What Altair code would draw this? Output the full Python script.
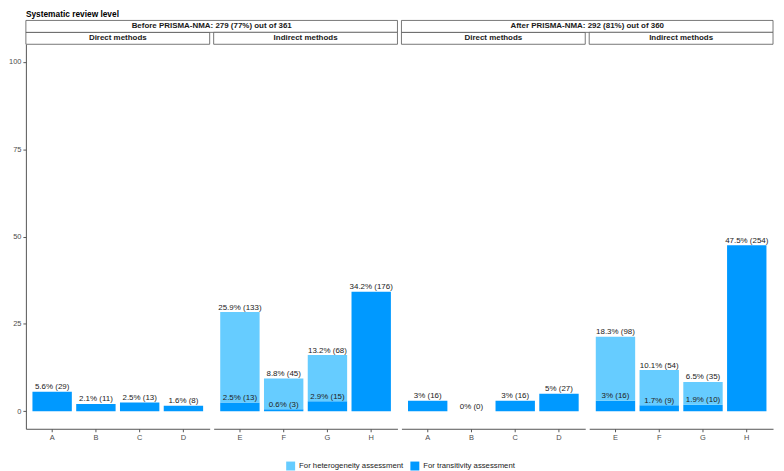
import altair as alt
import pandas as pd

# ---------------- data ----------------
periods = ["Before PRISMA-NMA: 279 (77%) out of 361",
           "After PRISMA-NMA: 292 (81%) out of 360"]
methods = ["Direct methods", "Indirect methods"]
direct_letters = ["A", "B", "C", "D"]
indirect_letters = ["E", "F", "G", "H"]
types = ["For heterogeneity assessment", "For transitivity assessment"]

# order of letters: A..H (A-D direct, E-H indirect)
before_trans_pct = [5.6, 2.1, 2.5, 1.6, 2.5, 0.6, 2.9, 34.2]
before_trans_n = [29, 11, 13, 8, 13, 3, 15, 176]
before_het_pct = [None, None, None, None, 25.9, 8.8, 13.2, None]
before_het_n = [None, None, None, None, 133, 45, 68, None]

after_trans_pct = [3, 0, 3, 5, 3, 1.7, 1.9, 47.5]
after_trans_n = [16, 0, 16, 27, 16, 9, 10, 254]
after_het_pct = [None, None, None, None, 18.3, 10.1, 6.5, None]
after_het_n = [None, None, None, None, 98, 54, 35, None]

y_ticks = [0, 25, 50, 75, 100]
colors = ["#66CCFF", "#0099FF"]


def fmt(p):
    s = f"{p:.1f}"
    return s[:-2] if s.endswith(".0") else s


rows = []
all_letters = direct_letters + indirect_letters
series = [(periods[0], before_trans_pct, before_trans_n, before_het_pct, before_het_n),
          (periods[1], after_trans_pct, after_trans_n, after_het_pct, after_het_n)]
for per, tp, tn, hp, hn in series:
    for i, L in enumerate(all_letters):
        meth = methods[0] if L in direct_letters else methods[1]
        rows.append(dict(period=per, method=meth, letter=L, type=types[1], order=0,
                         pct=tp[i], label=f"{fmt(tp[i])}% ({tn[i]})"))
        if hp[i] is not None:
            rows.append(dict(period=per, method=meth, letter=L, type=types[0], order=1,
                             pct=hp[i], label=f"{fmt(hp[i])}% ({hn[i]})"))
df = pd.DataFrame(rows)

# ---------------- layout ----------------
W = 185
H = 387
S = 4
HH = 12
FONT = "Liberation Sans"
AXC = "#555555"
LBLC = "#4D4D4D"

yscale = alt.Scale(domain=[-5, 105], nice=False, zero=False)
cscale = alt.Scale(domain=types, range=colors)
legend = alt.Legend(orient="none", direction="horizontal", title=None,
                    legendX=262, legendY=H + 33, symbolType="square",
                    symbolSize=81, symbolStrokeWidth=0, labelFontSize=7.8,
                    labelColor="#222222", labelOffset=4, columnPadding=7)


def panel(pi, mi):
    letters = direct_letters if mi == 0 else indirect_letters
    d = df[(df.period == periods[pi]) & (df.method == methods[mi])]
    base = alt.Chart(d).transform_stack(
        stack="pct", groupby=["letter"], as_=["y0", "y1"],
        sort=[alt.SortField("order", order="ascending")])
    xenc = alt.X("letter:N", scale=alt.Scale(domain=letters, paddingInner=0.1, paddingOuter=0.15),
                 axis=alt.Axis(title=None, labelAngle=0, labelFontSize=7.5, labelColor=LBLC,
                               tickSize=3, tickColor=AXC, domainColor=AXC, labelPadding=2))
    if pi == 0 and mi == 0:
        yaxis = alt.Axis(title=None, values=y_ticks, grid=False, labelFontSize=7.5,
                         labelColor=LBLC, tickSize=3, tickColor=AXC, domainColor=AXC,
                         labelPadding=2)
    else:
        yaxis = None
    bars = base.mark_bar().encode(
        x=xenc,
        y=alt.Y("y0:Q", scale=yscale, axis=yaxis),
        y2="y1:Q",
        color=alt.Color("type:N", scale=cscale, legend=legend),
    )
    text = base.mark_text(baseline="bottom", dy=-0.5, fontSize=8, color="#222222").encode(
        x=alt.X("letter:N"), y=alt.Y("y1:Q"), text="label:N")
    hin = alt.Chart(pd.DataFrame({"h": [methods[mi]]}))
    layers = [bars, text,
              hin.mark_rect(fill="white", stroke=AXC, strokeWidth=0.8).encode(
                  x=alt.value(0), x2=alt.value(W), y=alt.value(-HH), y2=alt.value(0)),
              hin.mark_text(fontSize=8, fontWeight="bold", color="#1a1a1a").encode(
                  x=alt.value(W / 2), y=alt.value(-HH / 2), text="h:N")]
    if mi == 0:
        hout = alt.Chart(pd.DataFrame({"h": [periods[pi]]}))
        layers += [hout.mark_rect(fill="white", stroke=AXC, strokeWidth=0.8).encode(
                       x=alt.value(0), x2=alt.value(2 * W + S), y=alt.value(-2 * HH), y2=alt.value(-HH)),
                   hout.mark_text(fontSize=8, fontWeight="bold", color="#1a1a1a").encode(
                       x=alt.value((2 * W + S) / 2), y=alt.value(-1.5 * HH), text="h:N")]
    return alt.layer(*layers).properties(width=W, height=H)


chart = alt.hconcat(panel(0, 0), panel(0, 1), panel(1, 0), panel(1, 1),
                    spacing=S, bounds="flush").properties(
    title=alt.Title("Systematic review level", anchor="start", frame="group",
                    fontSize=8.4, fontWeight="bold", color="#000000", offset=2),
    padding={"left": 0, "top": 0, "right": 2, "bottom": 0},
).configure(font=FONT).configure_view(stroke=None)

chart.save("out.html", embed_options={"renderer": "svg", "actions": False})
